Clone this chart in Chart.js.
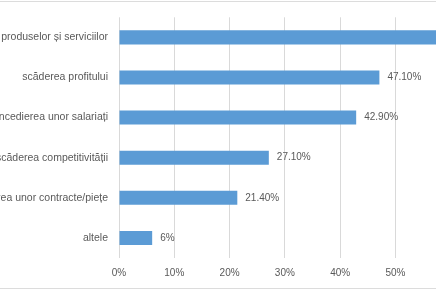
<!DOCTYPE html>
<html>
<head>
<meta charset="utf-8">
<script src="https://cdn.jsdelivr.net/npm/chart.js@4"></script>
<style>
  html, body { margin: 0; padding: 0; background: #fff; overflow: hidden; }
  body { width: 436px; height: 291px; position: relative; }
  #frame { position: absolute; left: 0; top: 1px; width: 436px; height: 286px;
           border-top: 1px solid #dcdcdc; border-bottom: 1px solid #dcdcdc; }
  #chart { position: absolute; left: -150px; top: 0; }
</style>
</head>
<body>
<div id="frame"></div>
<canvas id="chart" width="700" height="291"></canvas>
<script>
const categories = [
    "scăderea cererii produselor și serviciilor",
    "scăderea profitului",
    "concedierea unor salariați",
    "scăderea competitivității",
    "pierderea unor contracte/piețe",
    "altele"
];
const values = [62.9, 47.1, 42.9, 27.1, 21.4, 6];
const valueLabels = ["62.90%", "47.10%", "42.90%", "27.10%", "21.40%", "6%"];

const textColor = "#595959";
const family = "'Liberation Sans', sans-serif";
const catFont = { family: family, size: 10.5 };
const tickFont = { family: family, size: 10 };

// simple value labels at the end of each bar
const barValues = {
    id: "barValues",
    afterDatasetsDraw(chart) {
        const ctx = chart.ctx;
        const meta = chart.getDatasetMeta(0);
        ctx.save();
        ctx.fillStyle = textColor;
        ctx.font = tickFont.size + "px " + family;
        ctx.textBaseline = "middle";
        ctx.textAlign = "left";
        meta.data.forEach((bar, i) => {
            ctx.fillText(valueLabels[i], bar.x + 8, bar.y);
        });
        ctx.restore();
    }
};

new Chart(document.getElementById("chart"), {
    type: "bar",
    data: {
        labels: categories,
        datasets: [{
            data: values,
            backgroundColor: "#5b9bd5",
            barPercentage: 0.35,
            categoryPercentage: 1
        }]
    },
    options: {
        indexAxis: "y",
        responsive: false,
        devicePixelRatio: 1,
        animation: false,
        layout: { padding: { top: 16, right: 44, bottom: 3, left: 0 } },
        plugins: { legend: { display: false }, tooltip: { enabled: false } },
        scales: {
            x: {
                min: 0,
                max: 70,
                ticks: { stepSize: 10, color: textColor, font: tickFont, padding: 9,
                         callback: v => v + "%" },
                grid: { color: "#d9d9d9", drawTicks: false },
                border: { display: false }
            },
            y: {
                afterFit(scale) { scale.width = 269; },
                ticks: { color: textColor, font: catFont, padding: 11, autoSkip: false },
                grid: { display: false, drawTicks: false },
                border: { display: false }
            }
        }
    },
    plugins: [barValues]
});
</script>
</body>
</html>
